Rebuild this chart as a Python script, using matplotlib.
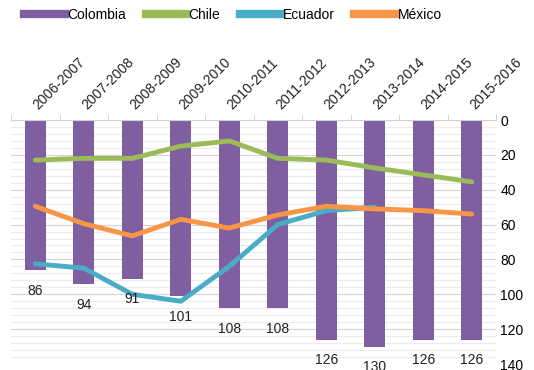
import matplotlib
matplotlib.use("Agg")
import matplotlib.pyplot as plt
import matplotlib.transforms as mtransforms
from matplotlib.lines import Line2D
import numpy as np

periods = ["2006-2007", "2007-2008", "2008-2009", "2009-2010", "2010-2011",
           "2011-2012", "2012-2013", "2013-2014", "2014-2015", "2015-2016"]
colombia = [86, 94, 91, 101, 108, 108, 126, 130, 126, 126]
chile = [23, 22, 22, 15, 12, 22, 23, 27.5, 31.5, 35.5]
ecuador = [82.5, 85, 100, 104, 84, 60, 52, 50, None, None]
mexico = [49.5, 59.5, 66.5, 57, 62, 54.5, 49.5, 51, 52, 54]
y_ticks = [0, 20, 40, 60, 80, 100, 120, 140]

PURPLE = "#7f5fa0"
GREEN = "#9bbb59"
AQUA = "#4bacc6"
ORANGE = "#f79646"

plt.rcParams["font.family"] = ["Liberation Sans", "DejaVu Sans"]

fig = plt.figure(figsize=(5.34, 3.70), dpi=100)
ax = fig.add_axes([11 / 534, 6 / 370, 485 / 534, 244 / 370])

x = np.arange(len(periods))
ax.bar(x, colombia, width=0.43, color=PURPLE, zorder=2)
ax.plot(x, chile, color=GREEN, lw=3.5, zorder=3, solid_capstyle="round")
ecu = np.array([np.nan if v is None else v for v in ecuador], dtype=float)
ax.plot(x, ecu, color=AQUA, lw=3.5, zorder=3, solid_capstyle="round")
ax.plot(x, mexico, color=ORANGE, lw=3.5, zorder=3, solid_capstyle="round")

for i, v in enumerate(colombia):
    ax.annotate(str(v), (i, v), xytext=(0, -15), textcoords="offset points",
                ha="center", va="center", fontsize=10, color="#222222", zorder=4)

ax.set_xlim(-0.5, len(periods) - 0.5)
ax.set_ylim(140, 0)

# categories on top, rotated (placed by hand so they can be nudged)
ax.xaxis.tick_top()
ax.set_xticks(x)
ax.set_xticklabels([])
ax.tick_params(axis="x", which="major", length=0)
ax.set_xticks(np.arange(-0.5, len(periods)), minor=True)
ax.tick_params(axis="x", which="minor", length=4, color="#d0d0d0", top=True)
top = mtransforms.blended_transform_factory(ax.transData, ax.transAxes)
nudge = mtransforms.ScaledTranslation(4 / 72, 6 / 72, fig.dpi_scale_trans)
for i, p in enumerate(periods):
    ax.text(i, 1.0, p, transform=top + nudge, rotation=45, ha="left",
            va="bottom", rotation_mode="anchor", fontsize=10, color="#222222")

# value axis on the right
ax.yaxis.tick_right()
ax.set_yticks(y_ticks)
ax.set_yticks(np.arange(0, 141, 4), minor=True)
ax.tick_params(axis="y", which="both", length=0, labelsize=10, pad=3)
ax.grid(axis="y", which="major", color="#d4d4d4", lw=0.8, zorder=0)
ax.grid(axis="y", which="minor", color="#ececec", lw=0.8, zorder=0)
ax.set_axisbelow(True)

for s in ["left", "right", "bottom"]:
    ax.spines[s].set_visible(False)
ax.spines["top"].set_color("#d0d0d0")

handles = [Line2D([], [], color=c, lw=6) for c in (PURPLE, GREEN, AQUA, ORANGE)]
fig.legend(handles, ["Colombia", "Chile", "Ecuador", "México"], ncol=4,
           loc="upper left", bbox_to_anchor=(0.03, 1.0), frameon=False,
           fontsize=10, handlelength=2.9, handletextpad=0.2, columnspacing=1.4,
           borderaxespad=0.2)

fig.savefig("out.png", dpi=100)
